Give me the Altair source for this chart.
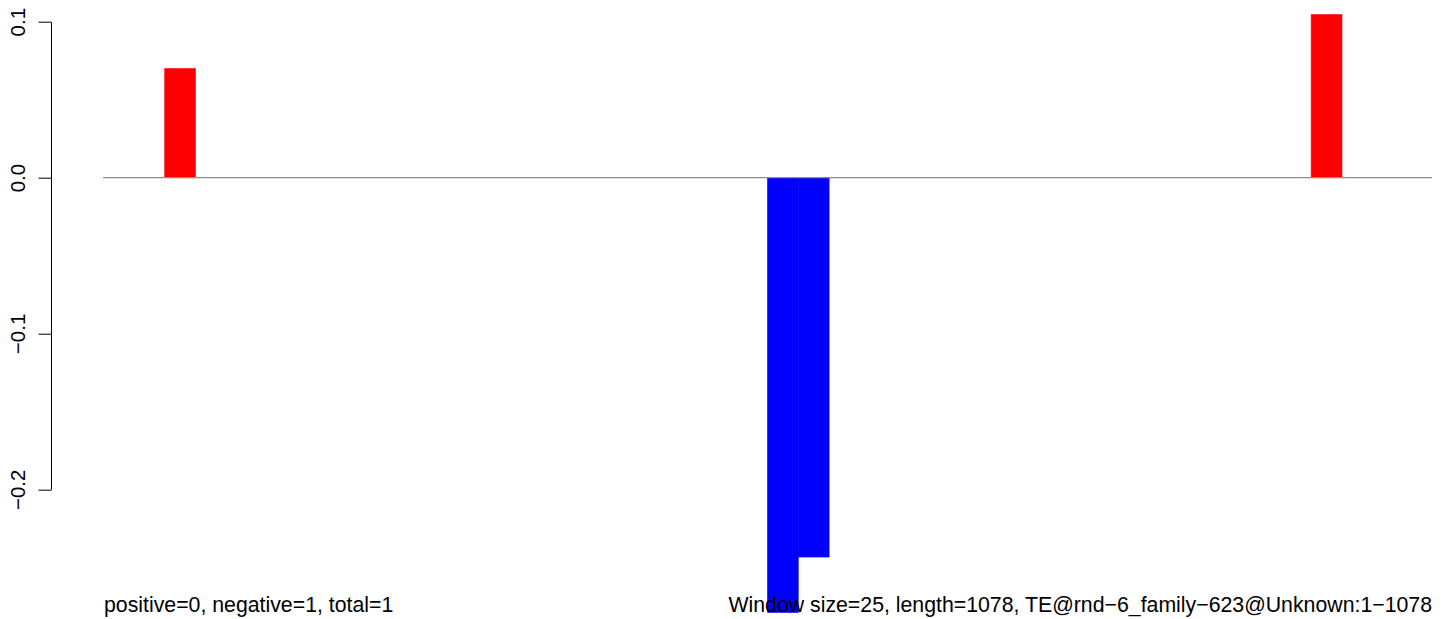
import altair as alt
import pandas as pd

# Data
window_start = [50, 539, 564, 980]
window_end = [75, 564, 589, 1005]
score = [0.070, -0.279, -0.2435, 0.1046]
sign = ["pos", "neg", "neg", "pos"]

seq_start = [0]
seq_end = [1078]
y_ticks = [-0.2, -0.1, 0.0, 0.1]

left_label = "positive=0, negative=1, total=1"
right_label = "Window size=25, length=1078, TE@rnd\u22126_family\u2212623@Unknown:1\u22121078"

bars_df = pd.DataFrame({"start": window_start, "end": window_end, "score": score, "sign": sign})
line_df = pd.DataFrame({"s": seq_start, "e": seq_end, "zero": [0.0]})

FONT = "Liberation Sans"
FS = 21.3

xscale = alt.Scale(domain=[0, 1078], nice=False, zero=False)
yscale = alt.Scale(domain=[-0.2, 0.1], nice=False, zero=False)
cscale = alt.Scale(domain=["pos", "neg"], range=["#FF0000", "#0000FF"])

bars = alt.Chart(bars_df).mark_rect(strokeWidth=0.6).encode(
    x=alt.X("start:Q", scale=xscale, axis=None),
    x2="end:Q",
    y=alt.Y(
        "score:Q",
        scale=yscale,
        axis=alt.Axis(
            values=y_ticks,
            format=".1f",
            title=None,
            offset=52,
            grid=False,
            domainColor="black",
            domainWidth=1,
            tickColor="black",
            tickWidth=1,
            tickSize=13,
            labelAngle=-90,
            labelAlign="center",
            labelBaseline="alphabetic",
            labelPadding=14,
            labelFont=FONT,
            labelFontSize=20.5,
            labelColor="black",
        ),
    ),
    y2=alt.datum(0),
    color=alt.Color("sign:N", scale=cscale, legend=None),
    stroke=alt.Stroke("sign:N", scale=cscale, legend=None),
)

zero_line = alt.Chart(line_df).mark_rule(color="#8c8c8c", strokeWidth=1.2).encode(
    x=alt.X("s:Q", scale=xscale),
    x2="e:Q",
    y=alt.Y("zero:Q", scale=yscale),
)

left_text = alt.Chart(pd.DataFrame({"t": [left_label]})).mark_text(
    align="left", baseline="alphabetic", font=FONT, fontSize=FS, color="black"
).encode(x=alt.value(1), y=alt.value(590.5), text="t:N")

right_text = alt.Chart(pd.DataFrame({"t": [right_label]})).mark_text(
    align="right", baseline="alphabetic", font=FONT, fontSize=FS, color="black"
).encode(x=alt.value(1329), y=alt.value(590.5), text="t:N")

chart = alt.layer(bars, zero_line, left_text, right_text).properties(
    width=1329,
    height=467.6,
    autosize=alt.AutoSizeParams(type="none"),
    padding={"left": 95, "top": 13.7, "right": 4, "bottom": 128},
    background="white",
).configure_view(stroke=None)

chart.save("out.html", embed_options={"renderer": "svg", "actions": False})
